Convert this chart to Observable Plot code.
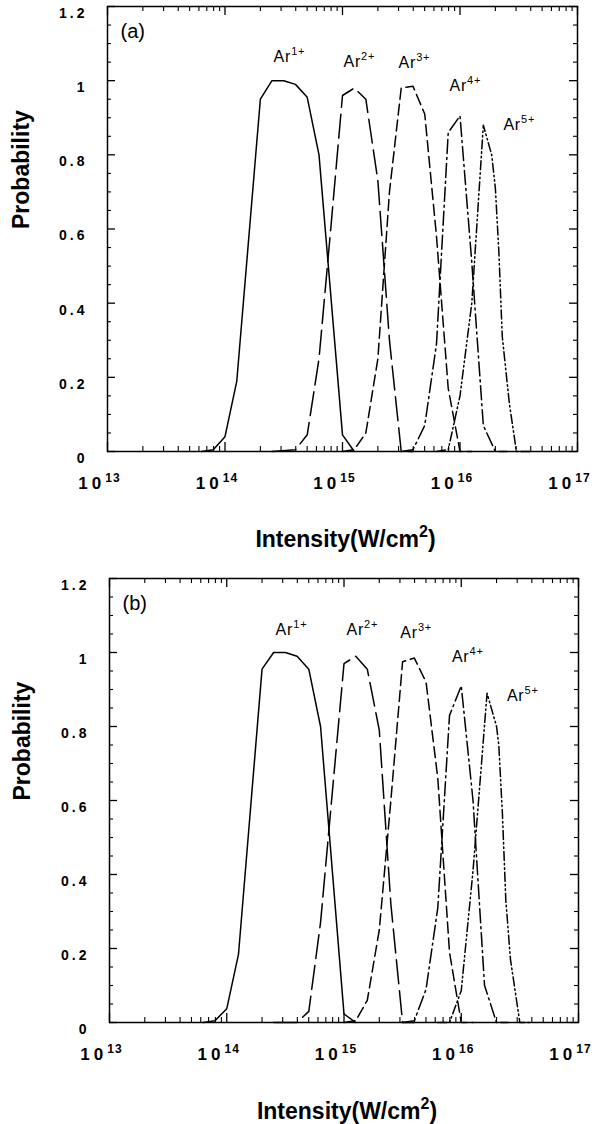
<!DOCTYPE html>
<html><head><meta charset="utf-8">
<script src="https://cdn.jsdelivr.net/npm/d3@7"></script>
<script src="https://cdn.jsdelivr.net/npm/@observablehq/plot@0.6"></script>
<style>
body{margin:0;background:#fff;}
#chart svg{display:block;}
</style></head><body><div id="chart"></div>
<script>
// ---------- data ----------
const ionLabels = ["Ar{1+}", "Ar{2+}", "Ar{3+}", "Ar{4+}", "Ar{5+}"];
const panelTags = ["(a)", "(b)"];

// panel (a): intensity (W/cm^2) and probability
const aAr1I = [6.31e13, 7.94e13, 1.0e14, 1.26e14, 2.0e14, 2.51e14, 3.16e14, 3.98e14, 5.01e14, 6.31e14, 1.0e15, 1.26e15];
const aAr1P = [0, 0.005, 0.04, 0.19, 0.95, 1.0, 1.0, 0.99, 0.955, 0.80, 0.045, 0];
const aAr2I = [2.51e14, 3.98e14, 5.01e14, 6.31e14, 7.94e14, 1.0e15, 1.26e15, 1.58e15, 2.0e15, 2.51e15, 3.16e15, 3.98e15];
const aAr2P = [0, 0.005, 0.045, 0.25, 0.60, 0.96, 0.98, 0.95, 0.73, 0.30, 0, 0];
const aAr3I = [1.0e15, 1.26e15, 1.58e15, 2.0e15, 2.51e15, 3.16e15, 3.98e15, 5.01e15, 6.31e15, 7.94e15, 1.0e16, 1.26e16];
const aAr3P = [0, 0.005, 0.05, 0.25, 0.70, 0.98, 0.985, 0.91, 0.58, 0.17, 0, 0];
const aAr4I = [3.16e15, 3.98e15, 5.01e15, 6.31e15, 7.94e15, 1.0e16, 1.26e16, 1.58e16, 2.0e16, 2.51e16];
const aAr4P = [0, 0.005, 0.07, 0.29, 0.86, 0.905, 0.51, 0.07, 0, 0];
const aAr5I = [6.31e15, 7.94e15, 1.0e16, 1.26e16, 1.58e16, 1.86e16, 2.0e16, 2.14e16, 2.29e16, 2.63e16, 3.02e16, 3.98e16];
const aAr5P = [0, 0.005, 0.15, 0.40, 0.88, 0.80, 0.71, 0.54, 0.31, 0.13, 0, 0];

// panel (b)
const bAr1I = [6.31e13, 7.94e13, 1.0e14, 1.26e14, 2.0e14, 2.51e14, 3.16e14, 3.98e14, 5.01e14, 6.31e14, 1.0e15, 1.26e15];
const bAr1P = [0, 0.005, 0.037, 0.185, 0.955, 1.0, 1.0, 0.99, 0.955, 0.80, 0.023, 0];
const bAr2I = [2.51e14, 3.98e14, 5.01e14, 6.31e14, 7.94e14, 1.0e15, 1.26e15, 1.58e15, 2.0e15, 2.51e15, 3.16e15, 3.98e15];
const bAr2P = [0, 0, 0.03, 0.27, 0.62, 0.97, 0.99, 0.955, 0.79, 0.32, 0, 0];
const bAr3I = [1.0e15, 1.26e15, 1.58e15, 2.0e15, 2.51e15, 3.16e15, 3.98e15, 5.01e15, 6.31e15, 7.94e15, 1.0e16, 1.26e16];
const bAr3P = [0, 0.005, 0.06, 0.25, 0.60, 0.975, 0.985, 0.92, 0.66, 0.19, 0, 0];
const bAr4I = [3.16e15, 3.98e15, 5.01e15, 6.31e15, 7.94e15, 1.0e16, 1.26e16, 1.58e16, 2.0e16, 2.51e16];
const bAr4P = [0, 0.005, 0.09, 0.31, 0.83, 0.91, 0.60, 0.10, 0, 0];
const bAr5I = [6.31e15, 7.94e15, 1.0e16, 1.26e16, 1.66e16, 2.0e16, 2.09e16, 2.24e16, 2.40e16, 2.63e16, 3.16e16, 3.98e16];
const bAr5P = [0, 0, 0.086, 0.41, 0.89, 0.80, 0.75, 0.57, 0.33, 0.17, 0, 0];

// label anchors (intensity, probability)
const aLabelI = [2.59e14, 1.02e15, 3.0e15, 8.13e15, 2.34e16];
const aLabelP = [1.065, 1.052, 1.047, 0.985, 0.88];
const bLabelI = [2.61e14, 1.05e15, 3.02e15, 8.32e15, 2.45e16];
const bLabelP = [1.061, 1.06, 1.054, 0.989, 0.884];

// axes ticks
const xMajorTicks = [1e13, 1e14, 1e15, 1e16, 1e17];
const xTickLabels = ["10{13}", "10{14}", "10{15}", "10{16}", "10{17}"];
const xMinorTicks = [2e13,3e13,4e13,5e13,6e13,7e13,8e13,9e13,
                     2e14,3e14,4e14,5e14,6e14,7e14,8e14,9e14,
                     2e15,3e15,4e15,5e15,6e15,7e15,8e15,9e15,
                     2e16,3e16,4e16,5e16,6e16,7e16,8e16,9e16];
const yMajorTicks = [0, 0.2, 0.4, 0.6, 0.8, 1, 1.2];
const yTickLabels = ["0", "0.2", "0.4", "0.6", "0.8", "1", "1.2"];
const yMinorTicks = [0.05,0.1,0.15,0.25,0.3,0.35,0.45,0.5,0.55,0.65,0.7,0.75,0.85,0.9,0.95,1.05,1.1,1.15];
const xTitle = "Intensity(W/cm{2})";
const yTitle = "Probability";

// ---------- styles ----------
const dashes = [null, "24,7", "11,5", "14,4,2,4", "9,3,1.5,3,1.5,3"];
const FONT = "'Liberation Sans', Arial, Helvetica, sans-serif";

function makePanel(p) {
  const W = 597, H = 562;
  const fw = W - p.ml - p.mr, fh = H - p.mt - p.mb;
  const marks = [];
  p.series.forEach((s, i) => {
    const data = s[0].map((x, j) => ({x, y: s[1][j]}));
    marks.push(Plot.line(data, {x: "x", y: "y", stroke: "black", strokeWidth: 1.5,
      strokeDasharray: dashes[i] ?? undefined, strokeLinejoin: "round"}));
  });
  marks.push(
    Plot.tickY(yMajorTicks, {y: d => d, insetRight: fw - 8, strokeWidth: 1.3}),
    Plot.tickY(yMinorTicks, {y: d => d, insetRight: fw - 4, strokeWidth: 1.1}),
    Plot.tickY(yMajorTicks, {y: d => d, insetLeft: fw - 8, strokeWidth: 1.3}),
    Plot.tickY(yMinorTicks, {y: d => d, insetLeft: fw - 4, strokeWidth: 1.1}),
    Plot.tickX(xMajorTicks, {x: d => d, insetTop: fh - 9, strokeWidth: 1.3}),
    Plot.tickX(xMinorTicks, {x: d => d, insetTop: fh - 5, strokeWidth: 1.1}),
    Plot.tickX(xMajorTicks, {x: d => d, insetBottom: fh - 9, strokeWidth: 1.3}),
    Plot.tickX(xMinorTicks, {x: d => d, insetBottom: fh - 5, strokeWidth: 1.1}),
    Plot.frame({stroke: "black", strokeWidth: 1.5}),
    Plot.axisY(yMajorTicks, {tickSize: 0, tickPadding: 20, dy: 7,
      tickFormat: d => yTickLabels[yMajorTicks.indexOf(d)], fontSize: 14, fontWeight: "bold", label: null}),
    Plot.axisX(xMajorTicks, {tickSize: 0, tickPadding: 25, dx: -8,
      tickFormat: d => xTickLabels[xMajorTicks.indexOf(d)], fontSize: 17, fontWeight: "bold", label: null}),
    Plot.text([xTitle], {frameAnchor: "bottom", dy: p.titleDy, dx: 3, fontSize: 23, fontWeight: "bold"}),
    Plot.text([yTitle], {frameAnchor: "left", dx: p.yTitleDx, rotate: -90, fontSize: 23, fontWeight: "bold"}),
    Plot.text([p.tag], {frameAnchor: "top-left", dx: 13, dy: 25, lineAnchor: "middle", textAnchor: "start", fontSize: 20}),
    Plot.text(ionLabels, {x: (d, i) => p.labelI[i], y: (d, i) => p.labelP[i], text: d => d,
      textAnchor: "start", fontSize: 16})
  );
  return Plot.plot({
    width: W, height: H,
    marginLeft: p.ml, marginRight: p.mr, marginTop: p.mt, marginBottom: p.mb,
    x: {type: "log", domain: [1e13, 1e17]},
    y: {domain: [0, 1.2]},
    style: {fontFamily: FONT, color: "black", background: "white", overflow: "visible"},
    marks
  });
}

function supify(svg) {
  d3.select(svg).selectAll("text").each(function() {
    const t = this.textContent;
    const fs = parseFloat(getComputedStyle(this).fontSize) || 14;
    if (/^[0-9.]+$/.test(t)) this.setAttribute("letter-spacing", "3");
    if (t.startsWith("10{")) this.setAttribute("letter-spacing", "4");
    if (t.startsWith("Ar")) this.setAttribute("letter-spacing", "0.8");
    if (!t.includes("{")) return;
    const parts = t.split(/(\{[^}]*\})/).filter(s => s);
    const supSize = Math.round(fs * 0.68);
    const shift = Math.round(fs * 0.42);
    this.textContent = "";
    let shifted = false;
    for (const part of parts) {
      const ts = d3.select(this).append("tspan");
      if (part.startsWith("{")) {
        ts.text(part.slice(1, -1)).attr("font-size", supSize).attr("dy", -shift);
        if (t.startsWith("10{")) ts.attr("letter-spacing", "1");
        shifted = true;
      } else {
        ts.text(part);
        if (shifted) { ts.attr("dy", shift); shifted = false; }
      }
    }
  });
}

const container = document.getElementById("chart");
const panels = [
  {tag: panelTags[0], ml: 107, mr: 20, mt: 6, mb: 111, titleDy: 95, yTitleDx: -86,
   labelI: aLabelI, labelP: aLabelP,
   series: [[aAr1I, aAr1P], [aAr2I, aAr2P], [aAr3I, aAr3P], [aAr4I, aAr4P], [aAr5I, aAr5P]]},
  {tag: panelTags[1], ml: 109, mr: 19, mt: 16, mb: 102, titleDy: 96, yTitleDx: -87,
   labelI: bLabelI, labelP: bLabelP,
   series: [[bAr1I, bAr1P], [bAr2I, bAr2P], [bAr3I, bAr3P], [bAr4I, bAr4P], [bAr5I, bAr5P]]}
];
for (const p of panels) {
  const svg = makePanel(p);
  container.appendChild(svg);
  supify(svg);
}
</script></body></html>
